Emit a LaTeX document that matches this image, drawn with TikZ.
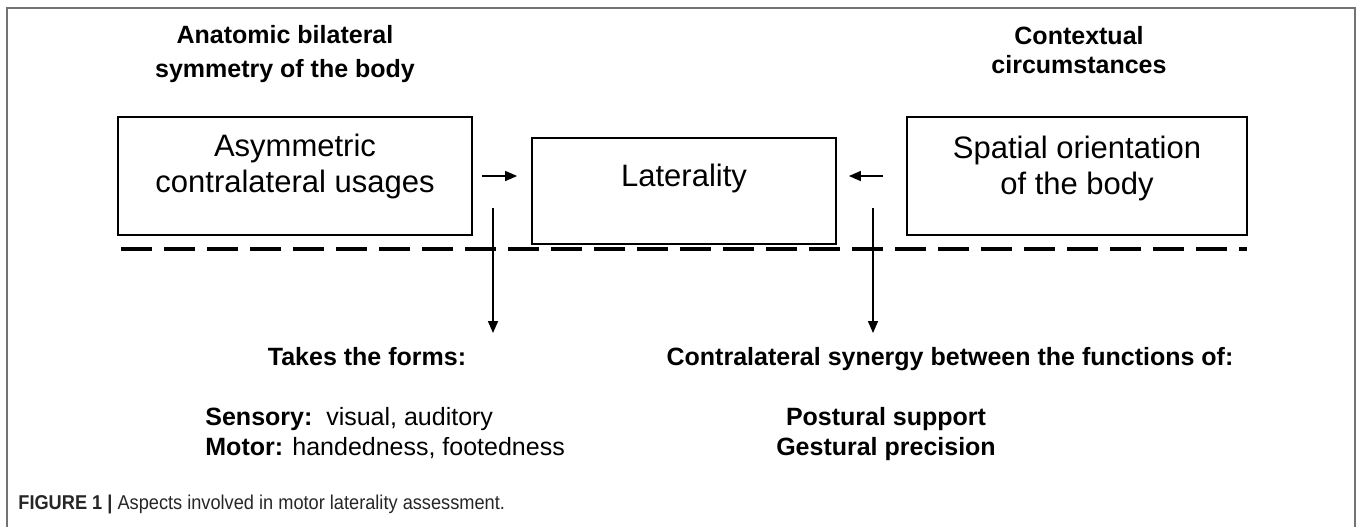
\documentclass[tikz,border=0pt]{standalone}
\usepackage{fontspec}
\setmainfont{Liberation Sans}
\usepackage{graphicx}
\usetikzlibrary{arrows.meta}
\begin{document}
\begin{tikzpicture}[x=0.5pt,y=-0.5pt,
  box/.style={draw,line width=0.9pt,inner sep=0pt},
  boxtext/.style={anchor=north,inner sep=0pt,align=center,font=\fontsize{15.5pt}{18pt}\selectfont},
  heading/.style={anchor=north,inner sep=0pt,align=center,font=\bfseries\fontsize{12.5pt}{17pt}\selectfont},
  listing/.style={anchor=north,inner sep=0pt,font=\fontsize{12.5pt}{15pt}\selectfont},
  arr/.style={line width=0.8pt,-{Triangle[length=6pt,width=5pt]}},
  divider/.style={line width=2pt,dash pattern=on 15.5pt off 6pt}]
\useasboundingbox (0,0) rectangle (1358,527);
\draw[black!55,line width=1pt] (7,527) -- (7,8) -- (1355,8) -- (1355,527);

\node[box,minimum width=177pt,minimum height=59pt] (asymbox) at (295,176) {};
\node[box,minimum width=152pt,minimum height=53pt] (latbox) at (684,191) {};
\node[box,minimum width=170pt,minimum height=59pt] (spatbox) at (1077,176) {};
\node[boxtext] (asymtxt) at (295,134) {Asymmetric\\contralateral usages};
\node[boxtext] (lattxt) at (684,164) {Laterality};
\node[boxtext] (spattxt) at (1077,136) {Spatial orientation\\of the body};

\node[heading] (anatomic) at (285,25) {Anatomic bilateral\\symmetry of the body};
\node[heading] (context) at (1079,26) {Contextual\\[-2.5pt]circumstances};

\draw[arr] ([xshift=4.5pt]asymbox.east) -- ([xshift=-7pt]latbox.west |- asymbox.east);
\draw[arr] ([xshift=-11.5pt]spatbox.west) -- ([xshift=6pt]latbox.east |- spatbox.west);
\draw[divider] (121,249) -- (1247,249);

\node[heading] (forms) at (367,347) {Takes the forms:};
\node[heading] (synergy) at (950,347) {Contralateral synergy between the functions of:};
\node[listing,anchor=north west,align=left] (kinds) at (205,407)
  {\textbf{Sensory:}\ \ visual, auditory\\\textbf{Motor:} handedness, footedness};
\node[listing,align=center,font=\bfseries\fontsize{12.5pt}{15pt}\selectfont] (functions) at (886,407)
  {Postural support\\Gestural precision};

\coordinate (lsplit) at (493,208);
\coordinate (rsplit) at (873,208);
\foreach \s/\t in {lsplit/forms,rsplit/synergy}
  \draw[arr] (\s) -- ([yshift=7pt]\s |- \t.north);

\node[anchor=base west,inner sep=0pt,text=black!85,font=\fontsize{10pt}{12pt}\selectfont] (caption) at (18,509)
  {\scalebox{0.91}[1]{\textbf{FIGURE 1 |} Aspects involved in motor laterality assessment.}};
\end{tikzpicture}
\end{document}
